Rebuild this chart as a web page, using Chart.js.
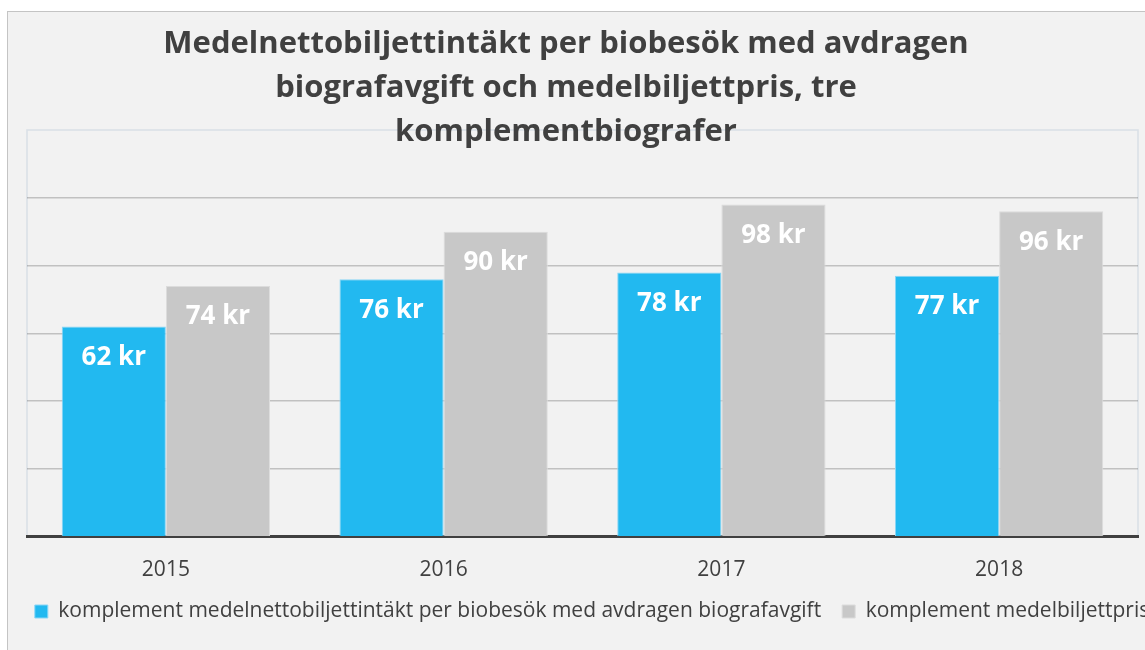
<!DOCTYPE html>
<html><head><meta charset="utf-8">
<script src="https://cdn.jsdelivr.net/npm/chart.js@4"></script>
<style>
html,body{margin:0;padding:0;background:#fff;overflow:hidden;width:1145px;height:650px;}
#box{position:absolute;left:7px;top:11px;width:1168px;height:650px;background:#f2f2f2;border:1px solid #c4c4c4;}
#c{position:absolute;left:0;top:0;}
</style>
</head><body>
<div id="box"><canvas id="c" width="1168" height="640"></canvas></div>
<script>
const titleLines = ["Medelnettobiljettintäkt per biobesök med avdragen", "biografavgift och medelbiljettpris, tre", "komplementbiografer"];
const years = ["2015", "2016", "2017", "2018"];
const seriesNames = ["komplement medelnettobiljettintäkt per biobesök med avdragen biografavgift", "komplement medelbiljettpris"];
const netIncome = [62, 76, 78, 77];
const ticketPrice = [74, 90, 98, 96];
const unit = " kr";

const FONT = "'Open Sans', 'DejaVu Sans', sans-serif";
const TEXT = "#404040";

const boxPlugin = {
  id: 'plotBorder',
  beforeDraw(chart) {
    const {ctx, chartArea: a} = chart;
    ctx.save();
    ctx.strokeStyle = '#d9dfe6';
    ctx.lineWidth = 1.5;
    ctx.strokeRect(a.left, a.top, a.right - a.left, a.bottom - a.top);
    ctx.restore();
  }
};

const labelPlugin = {
  id: 'labelsAndTitle',
  afterDraw(chart) {
    const ctx = chart.ctx;
    ctx.save();
    ctx.fillStyle = '#ffffff';
    ctx.font = "bold 26px " + FONT;
    ctx.textAlign = 'center';
    ctx.textBaseline = 'middle';
    chart.data.datasets.forEach((ds, i) => {
      chart.getDatasetMeta(i).data.forEach((bar, j) => {
        ctx.fillText(ds.data[j] + unit, bar.x, bar.y + 31);
      });
    });
    ctx.fillStyle = TEXT;
    ctx.font = "bold 31px " + FONT;
    titleLines.forEach((t, k) => ctx.fillText(t, 558, 32 + k * 44));
    ctx.restore();
  }
};

new Chart(document.getElementById('c'), {
  type: 'bar',
  data: {
    labels: years,
    datasets: [
      {label: seriesNames[0], data: netIncome, backgroundColor: '#22b9f0', borderColor: '#8ad6f6', borderWidth: 1},
      {label: seriesNames[1], data: ticketPrice, backgroundColor: '#c8c8c8', borderColor: '#dcdcdc', borderWidth: 1}
    ]
  },
  options: {
    responsive: false,
    animation: false,
    devicePixelRatio: 1,
    datasets: {bar: {categoryPercentage: 0.75, barPercentage: 1.0}},
    layout: {padding: {left: 0, right: 0, top: 118, bottom: 20}},
    plugins: {
      legend: {
        position: 'bottom',
        labels: {boxWidth: 13, boxHeight: 13, padding: 21, color: TEXT, font: {family: FONT, size: 21}}
      },
      tooltip: {enabled: false}
    },
    scales: {
      x: {
        z: 1,
        grid: {display: false, drawTicks: false},
        border: {color: '#404040', width: 3},
        ticks: {color: TEXT, padding: 21, font: {family: FONT, size: 21}},
        afterFit(scale) { scale.height -= 24; }
      },
      y: {
        z: 1,
        min: 0, max: 120,
        ticks: {display: false, stepSize: 20},
        border: {display: false},
        grid: {
          drawTicks: false,
          lineWidth: 1.5,
          color: c => (c.tick.value === 0 || c.tick.value === 120) ? 'rgba(0,0,0,0)' : 'rgba(0,0,0,0.2)'
        },
        afterFit(scale) { scale.width = 19; }
      },
      yRight: {
        position: 'right',
        min: 0, max: 120,
        ticks: {display: false},
        border: {display: false},
        grid: {display: false, drawTicks: false},
        afterFit(scale) { scale.width = 38; }
      }
    }
  },
  plugins: [boxPlugin, labelPlugin]
});
</script>
</body></html>
